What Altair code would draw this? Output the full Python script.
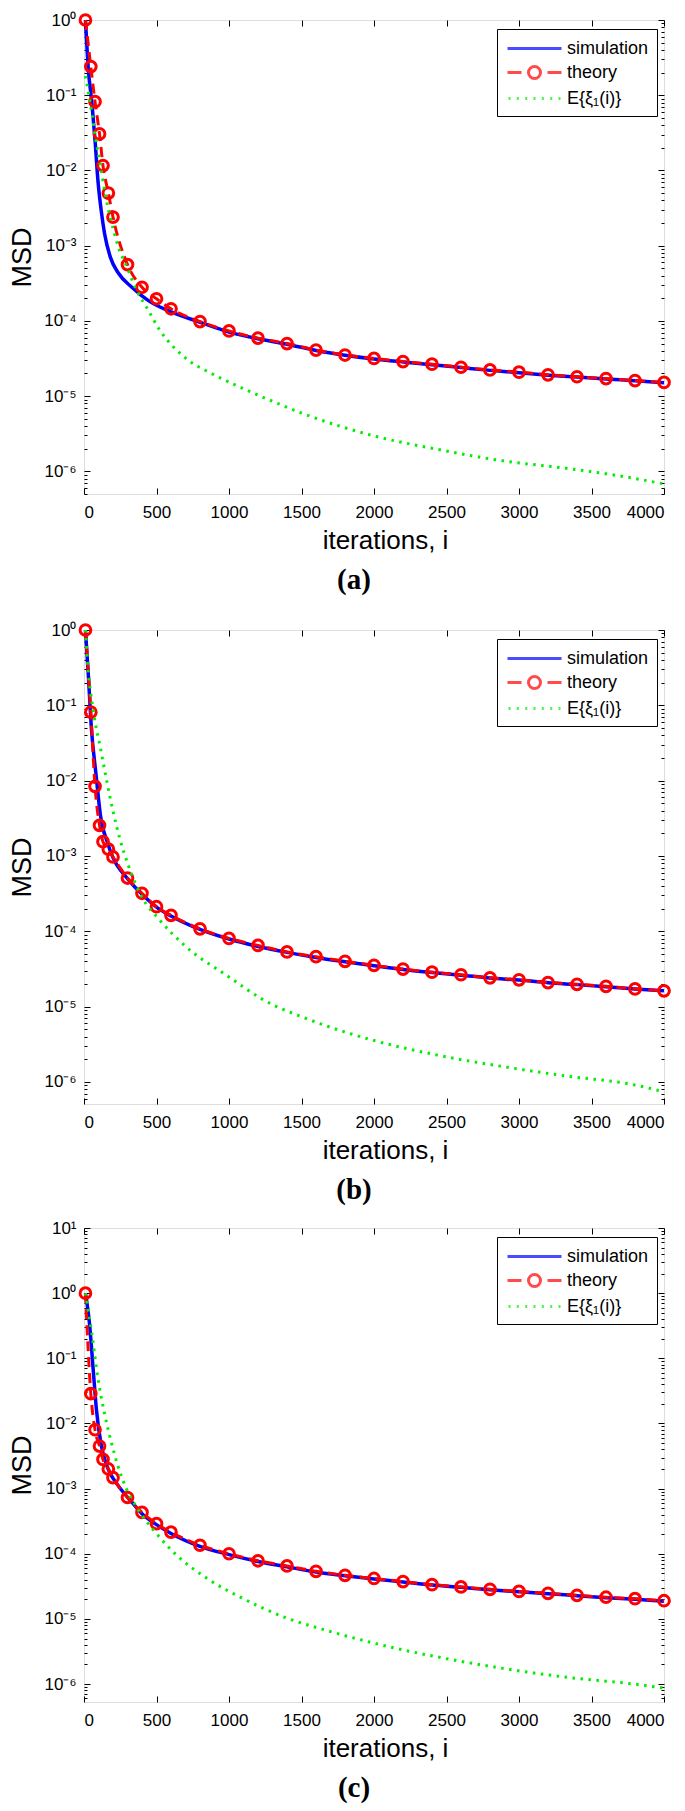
import altair as alt
import pandas as pd

# ---------------- data ----------------
SERIES = ["simulation", "theory", "E{ξ₁(i)}"]

theory_i = [10, 47, 76, 107, 131, 168, 200, 300, 400, 500, 600, 800, 1000, 1200,
            1400, 1600, 1800, 2000, 2200, 2400, 2600, 2800, 3000, 3200, 3400,
            3600, 3800, 4000]

# panel (a)
sim_a_i = [10, 30, 55, 78, 96, 119, 142, 181, 238, 330, 444, 605, 800, 1000, 1200,
           1400, 1600, 1800, 2000, 2200, 2400, 2600, 2800, 3000, 3200, 3400, 3600,
           3800, 4000]
sim_a_v = [1.0, 0.22, 0.077, 0.0225, 0.0074, 0.0029, 0.00144, 7.1e-4, 4.3e-4, 2.8e-4,
           1.86e-4, 1.31e-4, 9.6e-5, 7.1e-5, 5.8e-5, 4.9e-5, 4.05e-5, 3.5e-5, 3.12e-5,
           2.85e-5, 2.62e-5, 2.4e-5, 2.2e-5, 2.05e-5, 1.9e-5, 1.79e-5, 1.69e-5,
           1.6e-5, 1.51e-5]
th_a_v = [1.0, 0.24, 0.082, 0.0306, 0.0116, 0.0050, 0.0024, 5.6e-4, 2.8e-4, 1.97e-4,
          1.45e-4, 9.8e-5, 7.35e-5, 5.9e-5, 5.0e-5, 4.1e-5, 3.52e-5, 3.17e-5, 2.88e-5,
          2.66e-5, 2.42e-5, 2.23e-5, 2.08e-5, 1.92e-5, 1.81e-5, 1.71e-5, 1.61e-5,
          1.52e-5]
gr_a_i = [10, 55, 78, 112, 146, 188, 238, 296, 353, 444, 525, 628, 719, 880, 1038,
          1244, 1538, 1988, 2439, 2889, 3340, 3790, 4000]
gr_a_v = [0.18, 0.056, 0.028, 0.012, 0.0049, 0.0021, 9.5e-4, 5.2e-4, 2.8e-4, 1.38e-4,
          7.4e-5, 4.3e-5, 3.0e-5, 2.0e-5, 1.42e-5, 9.5e-6, 5.6e-6, 3.0e-6, 1.96e-6,
          1.38e-6, 1.09e-6, 8.1e-7, 6.8e-7]

# panel (b)
sim_b_i = [10, 30, 51, 83, 114, 162, 200, 300, 400, 500, 600, 800, 1000, 1200, 1400,
           1600, 1800, 2000, 2200, 2400, 2600, 2800, 3000, 3200, 3400, 3600, 3800, 4000]
sim_b_v = [1.0, 0.25, 0.05, 0.012, 0.0034, 1.5e-3, 9.5e-4, 5.0e-4, 3.1e-4, 2.1e-4,
           1.6e-4, 1.06e-4, 7.9e-5, 6.3e-5, 5.25e-5, 4.5e-5, 3.95e-5, 3.5e-5, 3.12e-5,
           2.84e-5, 2.62e-5, 2.4e-5, 2.25e-5, 2.08e-5, 1.96e-5, 1.84e-5, 1.72e-5,
           1.62e-5]
th_b_v = [1.0, 0.081, 0.0084, 0.00255, 1.55e-3, 1.23e-3, 9.7e-4, 5.1e-4, 3.2e-4,
          2.12e-4, 1.63e-4, 1.08e-4, 8.05e-5, 6.5e-5, 5.33e-5, 4.6e-5, 4.0e-5, 3.54e-5,
          3.15e-5, 2.87e-5, 2.65e-5, 2.41e-5, 2.27e-5, 2.09e-5, 1.98e-5, 1.86e-5,
          1.72e-5, 1.62e-5]
gr_b_i = [10, 19, 66, 112, 157, 202, 247, 307, 397, 517, 697, 997, 1238, 1538, 1989,
          2439, 2889, 3340, 3790, 4000]
gr_b_v = [1.0, 0.52, 0.08, 0.028, 0.0098, 0.0038, 1.7e-3, 7.4e-4, 2.9e-4, 1.45e-4,
          6.4e-5, 2.5e-5, 1.23e-5, 6.9e-6, 3.6e-6, 2.27e-6, 1.6e-6, 1.19e-6, 9.2e-7,
          7.4e-7]

# panel (c)
sim_c_i = [10, 38, 64, 86, 119, 166, 231, 330, 400, 500, 600, 800, 1000, 1200, 1400,
           1600, 1800, 2000, 2200, 2400, 2600, 2800, 3000, 3200, 3400, 3600, 3800, 4000]
sim_c_v = [1.0, 0.34, 0.064, 0.016, 0.0046, 0.002, 1.15e-3, 6.2e-4, 4.1e-4, 2.8e-4,
           2.05e-4, 1.3e-4, 9.7e-5, 7.6e-5, 6.3e-5, 5.25e-5, 4.6e-5, 4.1e-5, 3.68e-5,
           3.3e-5, 3.05e-5, 2.8e-5, 2.6e-5, 2.44e-5, 2.27e-5, 2.12e-5, 2.0e-5, 1.87e-5]
th_c_v = [1.0, 0.0286, 0.008, 0.0045, 0.0028, 0.002, 1.47e-3, 7.3e-4, 4.3e-4, 2.9e-4,
          2.14e-4, 1.35e-4, 1.0e-4, 7.8e-5, 6.5e-5, 5.37e-5, 4.67e-5, 4.17e-5, 3.74e-5,
          3.35e-5, 3.09e-5, 2.84e-5, 2.64e-5, 2.47e-5, 2.3e-5, 2.15e-5, 2.04e-5, 1.9e-5]
gr_c_i = [10, 53, 97, 142, 187, 232, 292, 367, 487, 637, 847, 1088, 1388, 1688, 1989,
          2439, 2889, 3340, 3790, 4000]
gr_c_v = [1.0, 0.25, 0.048, 0.014, 5.3e-3, 2.3e-3, 1.0e-3, 5.0e-4, 2.2e-4, 9.6e-5,
          4.2e-5, 2.1e-5, 1.05e-5, 6.5e-6, 4.3e-6, 2.6e-6, 1.74e-6, 1.26e-6, 1.0e-6,
          8.7e-7]

x_ticks = [0, 500, 1000, 1500, 2000, 2500, 3000, 3500, 4000]

# ---------------- styling ----------------
COLORS = ["#0000ff", "#ff0000", "#00ee00"]
# legend glyphs (units: 1 = 10 px with symbolSize 400)
LEG_PATHS = [
    "M-2.7,0H2.7",
    "M-2.7,0H-1.3M1.3,0H2.7M0.6,0A0.6,0.6 0 1,1 -0.6,0A0.6,0.6 0 1,1 0.6,0",
    "M-2.6,0H-2.4M-1.77,0H-1.57M-0.93,0H-0.73M-0.1,0H0.1M0.73,0H0.93"
    "M1.57,0H1.77M2.4,0H2.6",
]
FONT = "Liberation Sans"
W, H = 580, 474
SUP = "['⁻⁷','⁻⁶','⁻⁵','⁻⁴','⁻³','⁻²','⁻¹','⁰','¹','²'][round(log(datum.value)/LN10)+7]"


def minor_vals(lo, hi):
    out = []
    for e in range(-8, 3):
        for k in range(2, 10):
            v = k * 10.0 ** e
            if lo * 0.999 <= v <= hi * 1.001:
                out.append(v)
    return out


def decade_vals(lo, hi):
    return [10.0 ** e for e in range(-8, 3) if lo * 0.999 <= 10.0 ** e <= hi * 1.001]


def panel(letter, sim_i, sim_v, th_v, gr_i, gr_v, ymin, ymax):
    df_sim = pd.DataFrame({"i": sim_i, "v": sim_v, "series": SERIES[0]})
    df_th = pd.DataFrame({"i": theory_i, "v": th_v, "series": SERIES[1]})
    df_gr = pd.DataFrame({"i": gr_i, "v": gr_v, "series": SERIES[2]})

    xs = alt.Scale(domain=[0, 4000], nice=False, zero=False)
    ys = alt.Scale(type="log", domain=[ymin, ymax], nice=False)
    leg = alt.Legend(title=None, orient="none", legendX=413, legendY=9,
                     labelFont=FONT, labelFontSize=18, labelColor="black",
                     symbolSize=400, symbolStrokeWidth=3, symbolOffset=18,
                     labelOffset=21, fillColor="white", strokeColor="black",
                     padding=8, rowPadding=2)
    col = alt.Color("series:N", scale=alt.Scale(domain=SERIES, range=COLORS), legend=leg)

    tick_common = dict(labels=False, domain=False, grid=False, title=None,
                       tickColor="black", tickWidth=1)

    def xt(orient):
        return alt.Axis(orient=orient, values=x_ticks, offset=-6, tickSize=6, **tick_common)

    def yt(orient, vals, size):
        return alt.Axis(orient=orient, values=vals, offset=-size, tickSize=size, **tick_common)

    ax_x_main = alt.Axis(values=x_ticks, format="d", ticks=False, domain=False, grid=False,
                         labelFont=FONT, labelFontSize=17, labelColor="black",
                         labelPadding=10, title="iterations, i", titleFont=FONT,
                         titleFontSize=26, titleFontWeight="normal",
                         titleColor="black", titlePadding=7, titleX=301,
                         titleAlign="center")
    ax_y_main = alt.Axis(values=decade_vals(ymin, ymax), ticks=False, domain=False,
                         grid=False, labelExpr="'10' + " + SUP, labelFont=FONT,
                         labelFontSize=17, labelColor="black", labelPadding=8,
                         title="MSD", titleFont=FONT, titleFontSize=27,
                         titleFontWeight="normal", titleColor="black",
                         titlePadding=7)

    sim = alt.Chart(df_sim).mark_line(strokeWidth=3.5, interpolate="monotone").encode(
        x=alt.X("i:Q", scale=xs, axis=ax_x_main),
        y=alt.Y("v:Q", scale=ys, axis=ax_y_main),
        color=col)

    th_line = alt.Chart(df_th).mark_line(strokeWidth=3, strokeDash=[10, 6],
                                         interpolate="monotone").encode(
        x=alt.X("i:Q", scale=xs, axis=xt("bottom")),
        y=alt.Y("v:Q", scale=ys, axis=yt("left", minor_vals(ymin, ymax), 3)),
        color=col)

    th_pts = alt.Chart(df_th).mark_point(shape="circle", filled=False, size=115,
                                         strokeWidth=3, color="#ff0000", opacity=1).encode(
        x=alt.X("i:Q", scale=xs, axis=xt("top")),
        y=alt.Y("v:Q", scale=ys, axis=yt("right", minor_vals(ymin, ymax), 3)))

    green = alt.Chart(df_gr).mark_line(strokeWidth=3, strokeDash=[2.5, 5.5],
                                       interpolate="monotone").encode(
        x=alt.X("i:Q", scale=xs, axis=None),
        y=alt.Y("v:Q", scale=ys, axis=yt("left", decade_vals(ymin, ymax), 6)),
        color=col)

    leg_shape = alt.Chart(df_sim).mark_point(filled=False).transform_filter(
        "false").encode(
        x=alt.X("i:Q", scale=xs, axis=None),
        y=alt.Y("v:Q", scale=ys, axis=yt("right", decade_vals(ymin, ymax), 6)),
        shape=alt.Shape("series:N", scale=alt.Scale(domain=SERIES, range=LEG_PATHS),
                        legend=leg))

    return alt.layer(sim, th_line, th_pts, green, leg_shape).resolve_axis(
        x="independent", y="independent").properties(
        width=W, height=H,
        title=alt.TitleParams(letter, orient="bottom", anchor="middle",
                              font="Liberation Serif", fontSize=29, fontWeight="bold",
                              color="black", offset=13, dx=-20))


pa = panel("(a)", sim_a_i, sim_a_v, th_a_v, gr_a_i, gr_a_v, 5.0e-7, 1.0)
pb = panel("(b)", sim_b_i, sim_b_v, th_b_v, gr_b_i, gr_b_v, 5.1e-7, 1.0)
pc = panel("(c)", sim_c_i, sim_c_v, th_c_v, gr_c_i, gr_c_v, 5.3e-7, 10.0)

top_two = alt.vconcat(pa, pb, spacing=22).resolve_scale(
    color="independent", shape="independent")

chart = alt.vconcat(top_two, pc, spacing=12).resolve_scale(
    color="independent", shape="independent").properties(
    padding={"left": 0, "top": 0, "right": 0, "bottom": 0}
).configure_view(stroke="black", strokeWidth=1.8).configure(
    background="white")

chart.save("out.html", embed_options={"renderer": "svg", "actions": False})
